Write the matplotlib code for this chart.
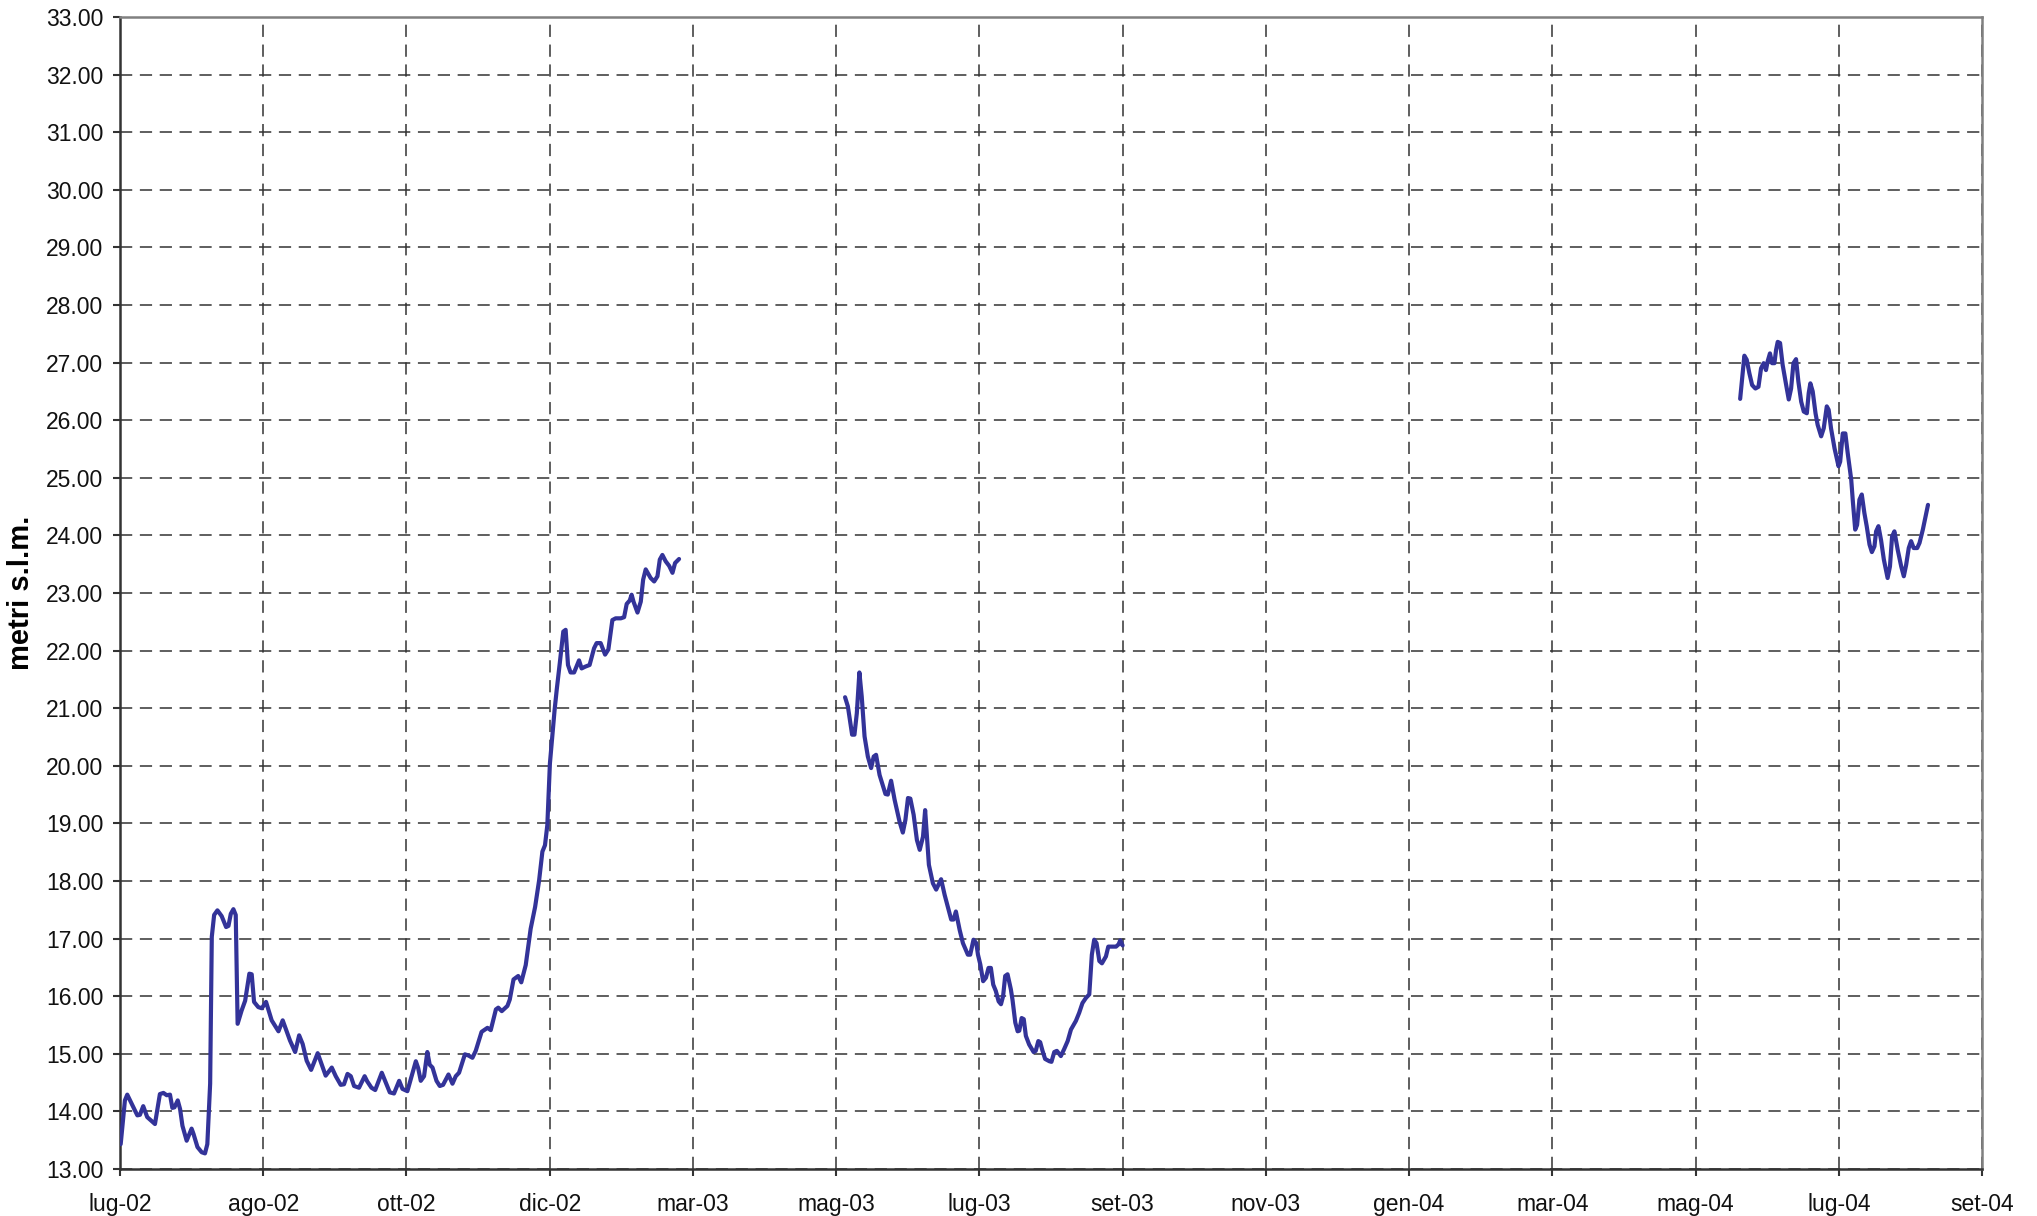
import numpy as np
import matplotlib.pyplot as plt

# Water level (metri s.l.m.), x = days since 1 Jul 2002
tick_labels = ['lug-02', 'ago-02', 'ott-02', 'dic-02', 'mar-03', 'mag-03', 'lug-03',
               'set-03', 'nov-03', 'gen-04', 'mar-04', 'mag-04', 'lug-04', 'set-04']
tick_step = 61  # Excel major unit, days

seg1_days = [0.3, 2.1, 3.1, 5, 7.4, 8.5, 9.9, 11.6, 14.9, 17, 18.5, 19.9, 21.3, 22.3, 23.2,
             24.6, 25.6, 26.6, 28.4, 30.5, 31.3, 33, 34.8, 36.2, 37.2, 38.4, 39.1, 40.1,
             41.5, 43.3, 45.2, 46.2, 47.2, 48.3, 49.3, 50.1, 51.8, 53.3, 55.1, 56.1, 57.1,
             58.9, 60.4, 62.2, 64.6, 67.5, 69.3, 72.4, 74.6, 76.3, 77.8, 79.5, 81.4, 84.2,
             87.6, 90.2, 91.9, 94, 95.4, 96.9, 98.3, 99.7, 101.8, 104.2, 105.3, 107.1,
             108.7, 111.5, 113.2, 114.9, 116.7, 118.9, 120.3, 122.4, 123.8, 126, 127,
             128.1, 129.5, 130.9, 131.9, 133.1, 134.8, 136.2, 137.6, 139.9, 141.6, 143,
             144.4, 146.9, 148.4, 150.1, 151.5, 154, 156.5, 157.9, 160.1, 161.1, 162.6,
             165, 166, 167.6, 169.6, 170.9, 172.8, 174.9, 176.8, 178.5, 179.9, 181, 182,
             182.7, 183.1, 184.1, 185.1, 186, 187.3, 188.8, 189.8, 190.8, 191.9, 193.4,
             195.5, 196.6, 198.1, 200, 201.9, 203, 204.7, 206.6, 208, 209.7, 211.1, 213.3,
             214.7, 215.8, 217.1, 217.9, 218.7, 220.4, 221.8, 222.8, 223.9, 226, 227.5,
             228.9, 229.9, 231, 232.4, 233.9, 235.3, 236.4, 238.1]
seg1_level = [13.43, 14.19, 14.29, 14.13, 13.93, 13.94, 14.09, 13.90, 13.78, 14.30, 14.32,
              14.28, 14.29, 14.06, 14.07, 14.19, 14.04, 13.75, 13.49, 13.70, 13.61, 13.38,
              13.29, 13.27, 13.43, 14.48, 17.03, 17.41, 17.49, 17.39, 17.20, 17.22, 17.43,
              17.51, 17.41, 15.52, 15.75, 15.92, 16.39, 16.38, 15.90, 15.81, 15.79, 15.90,
              15.58, 15.39, 15.58, 15.23, 15.03, 15.32, 15.17, 14.88, 14.72, 15.01, 14.62,
              14.76, 14.61, 14.46, 14.47, 14.65, 14.61, 14.44, 14.41, 14.61, 14.52, 14.41,
              14.37, 14.67, 14.50, 14.33, 14.31, 14.53, 14.39, 14.35, 14.55, 14.87, 14.75,
              14.53, 14.61, 15.03, 14.81, 14.76, 14.53, 14.44, 14.46, 14.64, 14.48, 14.61,
              14.67, 14.99, 14.97, 14.93, 15.05, 15.38, 15.45, 15.41, 15.77, 15.80, 15.74,
              15.83, 15.94, 16.29, 16.35, 16.24, 16.54, 17.17, 17.55, 18.01, 18.51, 18.62,
              18.97, 19.64, 20.04, 20.51, 20.97, 21.32, 21.78, 22.33, 22.36, 21.75, 21.62,
              21.62, 21.83, 21.69, 21.72, 21.75, 22.04, 22.13, 22.13, 21.93, 22.02, 22.53,
              22.56, 22.56, 22.58, 22.81, 22.87, 22.97, 22.85, 22.66, 22.85, 23.23, 23.41,
              23.26, 23.20, 23.29, 23.58, 23.66, 23.55, 23.47, 23.35, 23.52, 23.59]

seg2_days = [308.8, 310, 311.8, 312.8, 313.8, 314.9, 315.9, 317.1, 318.5, 319.9, 321, 322,
             323.5, 326, 327, 328.4, 329.9, 332, 333.4, 334.5, 335.6, 336.6, 338, 339.4,
             340.6, 342, 342.9, 344.5, 346.2, 347.6, 349.7, 351.2, 354, 355, 356, 357.6,
             359, 361.1, 362.1, 363.5, 364.7, 365.4, 366.4, 367.6, 368.8, 369.9, 370.9,
             371.9, 373, 374.2, 375.2, 376.1, 377, 378, 379.4, 380.1, 381.3, 382.3, 383,
             384, 384.9, 385.8, 387.2, 389.1, 390, 391.1, 391.9, 392.9, 394, 395.8, 396.7,
             397.9, 399, 400.7, 402.1, 403.6, 405, 407.1, 408.5, 409.9, 411.4, 412.8,
             413.9, 414.9, 415.9, 417.1, 418.2, 419.9, 420.9, 422.7, 424.2, 425.3, 426, 427]
seg2_level = [21.19, 21.03, 20.54, 20.54, 20.91, 21.62, 21.20, 20.51, 20.16, 19.96, 20.16,
              20.19, 19.84, 19.51, 19.50, 19.74, 19.41, 19.03, 18.84, 19.06, 19.44, 19.43,
              19.15, 18.71, 18.54, 18.77, 19.23, 18.28, 17.96, 17.85, 18.03, 17.76, 17.33,
              17.33, 17.47, 17.15, 16.92, 16.72, 16.72, 16.98, 16.92, 16.72, 16.55, 16.26,
              16.32, 16.49, 16.49, 16.20, 16.09, 15.91, 15.86, 16.00, 16.35, 16.38, 16.12,
              15.94, 15.54, 15.39, 15.40, 15.62, 15.60, 15.31, 15.16, 15.03, 15.05, 15.22,
              15.20, 15.05, 14.91, 14.87, 14.86, 15.03, 15.05, 14.96, 15.08, 15.22, 15.42,
              15.57, 15.71, 15.88, 15.97, 16.03, 16.72, 16.98, 16.92, 16.61, 16.57, 16.69,
              16.86, 16.86, 16.86, 16.90, 16.97, 16.88]

seg3_days = [690, 691.8, 692.8, 693.9, 695.1, 696.5, 697.8, 698.9, 700, 701, 701.7, 702.7,
             703.6, 704.6, 705.3, 706, 707, 708.1, 709.6, 710.7, 711.7, 712.7, 713.8, 714.8,
             716, 717.1, 718.4, 719.2, 719.9, 720.9, 722.1, 723, 724.5, 725.6, 726.9, 727.7,
             728.7, 730.2, 731.9, 732.6, 733.7, 734.8, 735.8, 737.3, 738, 739, 739.8, 740.8,
             741.8, 742.9, 743.9, 745.1, 746.1, 747.2, 747.9, 748.9, 750, 751.2, 752.8,
             753.8, 754.7, 755.7, 757.1, 758.6, 759.7, 760.7, 761.8, 762.8, 763.9, 765.4,
             766.4, 767.8, 770]
seg3_level = [26.37, 27.12, 27.05, 26.82, 26.61, 26.55, 26.58, 26.90, 26.99, 26.87, 27.02,
              27.16, 26.99, 26.99, 27.22, 27.36, 27.34, 26.96, 26.61, 26.36, 26.55, 26.99,
              27.06, 26.67, 26.32, 26.15, 26.12, 26.47, 26.64, 26.50, 26.12, 25.92, 25.72,
              25.86, 26.24, 26.18, 25.86, 25.51, 25.20, 25.28, 25.77, 25.77, 25.43, 24.97,
              24.59, 24.10, 24.18, 24.62, 24.71, 24.39, 24.16, 23.84, 23.71, 23.81, 24.07,
              24.16, 23.92, 23.58, 23.26, 23.46, 23.98, 24.07, 23.75, 23.46, 23.29, 23.49,
              23.78, 23.90, 23.78, 23.78, 23.87, 24.10, 24.53]

plt.rcParams['font.family'] = ['Liberation Sans', 'DejaVu Sans']

fig = plt.figure(figsize=(20.37, 12.16), dpi=100)
ax = fig.add_axes([0.0589, 0.0387, 0.9141, 0.9473])

line_color = '#333399'
for d, v in [(seg1_days, seg1_level), (seg2_days, seg2_level), (seg3_days, seg3_level)]:
    ax.plot(d, v, color=line_color, lw=3.0, solid_joinstyle='round',
            solid_capstyle='round', zorder=3)

xt = np.arange(len(tick_labels)) * tick_step
ax.set_xlim(0, xt[-1])
ax.set_ylim(13, 33)
ax.set_xticks(xt)
ax.set_xticklabels(tick_labels)
ax.set_yticks(np.arange(13, 34, 1))
ax.set_yticklabels([f'{v:.2f}' for v in range(13, 34)])

ax.grid(True, color='#333333', lw=1.1, ls=(0, (8, 5)), zorder=1)
ax.tick_params(axis='both', direction='out', length=5, width=1.5, color='#333333',
               labelsize=16.5, colors='#111111')
ax.tick_params(axis='y', pad=7)
ax.tick_params(axis='x', pad=12)

for s in ['left', 'bottom']:
    ax.spines[s].set_color('#333333')
    ax.spines[s].set_linewidth(1.8)
for s in ['top', 'right']:
    ax.spines[s].set_color('#808080')
    ax.spines[s].set_linewidth(1.8)

fig.text(21 / 2037, 1 - 593 / 1216, 'metri s.l.m.', rotation=90, ha='center', va='center',
         fontsize=21, fontweight='bold')

fig.savefig('out.png', dpi=100)
